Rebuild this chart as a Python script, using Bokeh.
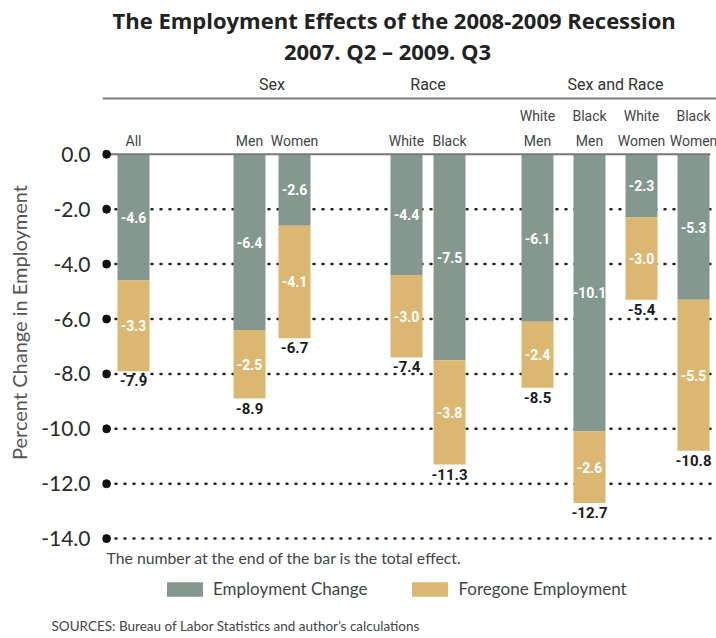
from bokeh.plotting import figure
from bokeh.models import Range1d, FixedTicker, ColumnDataSource, Span, Title
from bokeh.core.properties import value
from bokeh.embed import file_html
from bokeh.resources import INLINE

# ---------------- data ----------------
categories = ["All", "Men", "Women", "White", "Black",
              "White\nMen", "Black\nMen", "White\nWomen", "Black\nWomen"]
groups = ["", "Sex", "Sex", "Race", "Race",
          "Sex and Race", "Sex and Race", "Sex and Race", "Sex and Race"]
employment_change = [-4.6, -6.4, -2.6, -4.4, -7.5, -6.1, -10.1, -2.3, -5.3]
foregone_employment = [-3.3, -2.5, -4.1, -3.0, -3.8, -2.4, -2.6, -3.0, -5.5]
total_effect = [-7.9, -8.9, -6.7, -7.4, -11.3, -8.5, -12.7, -5.4, -10.8]
tick_values = [0, -2, -4, -6, -8, -10, -12, -14]
tick_labels = ["0.0", "-2.0", "-4.0", "-6.0", "-8.0", "-10.0", "-12.0", "-14.0"]
series_names = ["Employment Change", "Foregone Employment"]
title_lines = ["The Employment Effects of the 2008-2009 Recession", "2007. Q2 \u2013 2009. Q3"]
y_title = "Percent Change in Employment"
note_text = "The number at the end of the bar is the total effect."
source_text = "SOURCES: Bureau of Labor Statistics and author\u2019s calculations"

# ---------------- layout / style ----------------
bar_x = [133, 249, 294, 406, 449, 537, 589, 641, 693]   # horizontal positions (page px)
BAR_W = 32
W, H = 716, 638
LEFT = 102
TOP = 34
BOTTOM = 27
Y0 = 154.0      # page y of value 0
PX = 27.5       # px per percentage point
GREEN = "#85988F"
GOLD = "#DCB772"
COND = "Roboto"


def sy(s):
    """page y (px) -> data y"""
    return (Y0 - s) / PX


p = figure(width=W, height=H, output_backend="svg", toolbar_location=None,
           x_range=Range1d(LEFT, W), y_range=Range1d(sy(H - BOTTOM), sy(TOP)),
           x_axis_type=None, min_border_left=LEFT, min_border_right=0,
           min_border_top=TOP, min_border_bottom=BOTTOM, outline_line_color=None,
           background_fill_color="white", border_fill_color="white")
p.grid.visible = False

# main title, first line
p.title.text = title_lines[0]
p.title.align = "left"
p.title.offset = 10
p.title.standoff = 0
p.title.text_font = "Open Sans"
p.title.text_font_size = "22px"
p.title.text_font_style = "bold"
p.title.text_color = "#222222"

ax = p.yaxis[0]
ax.ticker = FixedTicker(ticks=tick_values)
ax.major_label_overrides = {v: l for v, l in zip(tick_values, tick_labels)}
ax.axis_line_color = None
ax.major_tick_line_color = None
ax.minor_tick_line_color = None
ax.major_tick_in = 0
ax.major_tick_out = 0
ax.minor_tick_in = 0
ax.minor_tick_out = 0
ax.major_label_standoff = 12
ax.major_label_text_font = "Lato"
ax.major_label_text_font_size = "21px"
ax.major_label_text_color = "#2a2a2a"
ax.axis_label = y_title
ax.axis_label_text_font = "Lato"
ax.axis_label_text_font_size = "20px"
ax.axis_label_text_font_style = "normal"
ax.axis_label_text_color = "#555555"
ax.axis_label_standoff = 7

# dotted grid lines
p.segment(x0=115, x1=714, y0=tick_values[1:], y1=tick_values[1:],
          line_color="#222222", line_width=2.5, line_dash="1 8", line_cap="round")

# stacked bars
mid_change = [c / 2 for c in employment_change]
mid_fore = [c + f / 2 for c, f in zip(employment_change, foregone_employment)]
bar_end = [c + f for c, f in zip(employment_change, foregone_employment)]
src = ColumnDataSource(dict(
    x=bar_x, change=employment_change, foregone=foregone_employment,
    mid_change=mid_change, mid_fore=mid_fore, end=bar_end,
    lab_change=["%.1f" % v for v in employment_change],
    lab_fore=["%.1f" % v for v in foregone_employment],
    lab_total=["%.1f" % v for v in total_effect],
    cat=categories,
))
p.vbar_stack(["change", "foregone"], x="x", width=BAR_W, source=src,
             fill_color=[GREEN, GOLD], line_color=None, legend_label=series_names)

# zero line and axis dots
p.segment(x0=106, x1=710, y0=0, y1=0, line_color="#777777", line_width=2)
p.scatter(x=[106] * len(tick_values), y=tick_values, size=8, color="#111111")

# value labels
for ycol, tcol in (("mid_change", "lab_change"), ("mid_fore", "lab_fore")):
    p.text(x="x", y=ycol, text=tcol, source=src, text_align="center",
           text_baseline="middle", text_color="white", text_font=value(COND),
           text_font_style="bold", text_font_size="14px")
p.text(x="x", y="end", text="lab_total", source=src, text_align="center",
       text_baseline="top", y_offset=4, text_color="#1a1a1a", text_font=value(COND),
       text_font_style="bold", text_font_size="15px")

# category labels
p.text(x="x", y=0, text="cat", source=src, text_align="center", text_baseline="bottom",
       y_offset=-5, text_color="#444444", text_font=value(COND), text_font_size="14px",
       text_line_height=1.55)

# group headers
gnames = []
for g in groups:
    if g and g not in gnames:
        gnames.append(g)
gx = [sum(x for x, gg in zip(bar_x, groups) if gg == g) / groups.count(g) for g in gnames]
p.text(x=gx, y=[sy(84.5)] * len(gnames), text=gnames, text_align="center",
       text_baseline="middle", text_color="#333333", text_font=value(COND),
       text_font_size="16px")
p.add_layout(Span(location=sy(98), dimension="width", line_color="#7a7a7a", line_width=2))

# title, second line
p.text(x=[387], y=[sy(51)], text=[title_lines[1]], text_align="center",
       text_baseline="middle", text_color="#222222", text_font=value("Open Sans"),
       text_font_style="bold", text_font_size="22px")

# footnote
p.text(x=[106], y=[sy(557.5)], text=[note_text], text_align="left", text_baseline="middle",
       text_color="#444444", text_font=value("Lato"), text_font_size="15.8px")

# sources
p.add_layout(Title(text=source_text, align="left", offset=-51, standoff=10,
                   text_font="Lato", text_font_size="13.5px", text_font_style="normal",
                   text_color="#444444"), "below")

# legend
lg = p.legend[0]
lg.location = (60, H - BOTTOM - 600)
lg.orientation = "horizontal"
lg.glyph_width = 45
lg.glyph_height = 18
lg.label_height = 18
lg.label_standoff = 6
lg.spacing = 40
lg.padding = 0
lg.margin = 0
lg.border_line_color = None
lg.background_fill_alpha = 0
lg.label_text_font = "Lato"
lg.label_text_font_size = "17px"
lg.label_text_color = "#444444"

open("out.html", "w").write(file_html(p, INLINE))
